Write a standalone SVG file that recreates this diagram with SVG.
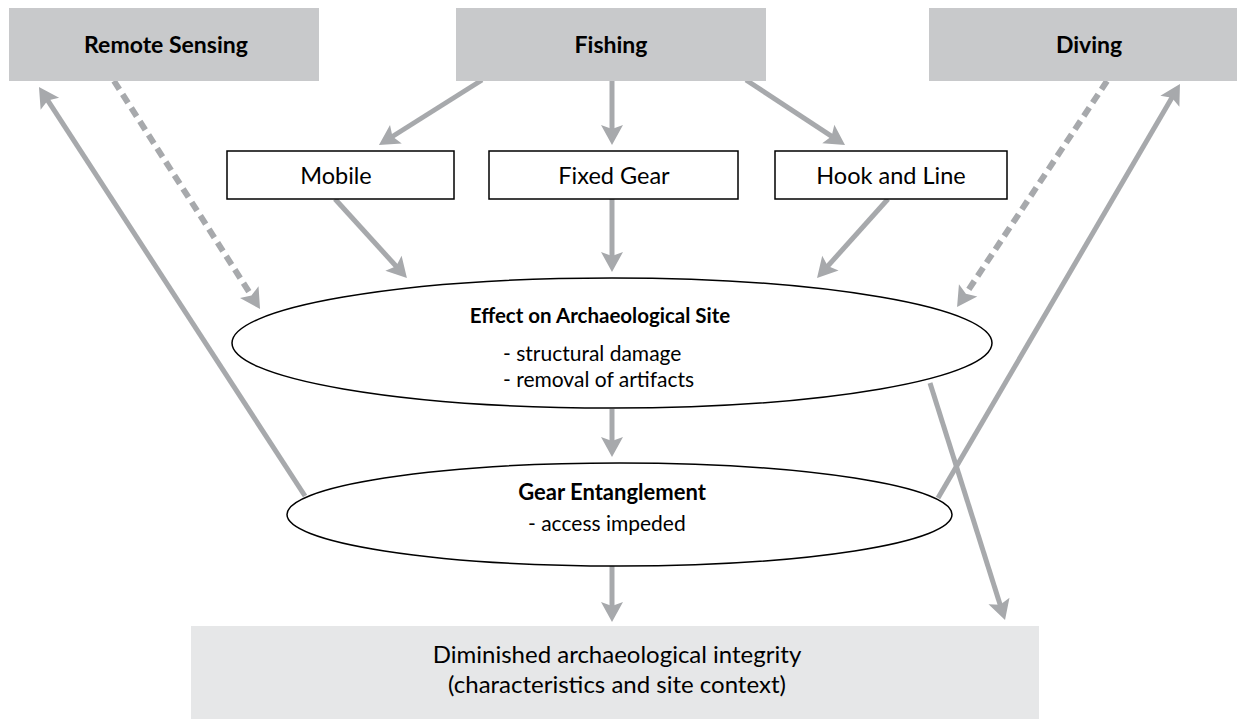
<svg xmlns="http://www.w3.org/2000/svg" width="1237" height="719" viewBox="0 0 1237 719">
<style>
.top{fill:#c8c9cb;stroke:none}
.bot{fill:#e6e7e8;stroke:none}
.box{fill:#fff;stroke:#000;stroke-width:1.5}
.ell{fill:#fff;stroke:#000;stroke-width:1.5}
.t{font-family:Lato,"Liberation Sans",sans-serif;fill:#000}
.b{font-weight:bold}
.c{text-anchor:middle}
.ar{stroke:#a7a9ac;stroke-width:5;fill:none;marker-end:url(#ah)}
.da{stroke-dasharray:10 6;stroke-width:6}
</style>
<defs>
<marker id="ah" markerUnits="userSpaceOnUse" viewBox="-6 -11 20 22" refX="0" refY="0" markerWidth="20" markerHeight="22" orient="auto" overflow="visible">
<path d="M-6,-11 L14,0 L-6,11 L-2,0 Z" fill="#a7a9ac"/>
</marker>
</defs>
<g id="connectors">
<line class="ar" x1="482" y1="80" x2="390.8" y2="137.5"/>
<line class="ar" x1="612" y1="80" x2="612" y2="131"/>
<line class="ar" x1="746" y1="80" x2="833.3" y2="137.3"/>
<line class="ar" x1="335" y1="199" x2="397.5" y2="267.7"/>
<line class="ar" x1="612" y1="199" x2="612" y2="258"/>
<line class="ar" x1="888" y1="199" x2="826.4" y2="267.6"/>
<line class="ar da" x1="114" y1="81" x2="252.5" y2="297.2"/>
<line class="ar da" x1="1107" y1="81" x2="964.8" y2="295.4"/>
<line class="ar" x1="305" y1="496" x2="46.6" y2="98.7"/>
<line class="ar" x1="938" y1="498" x2="1172.9" y2="96.1"/>
<line class="ar" x1="930" y1="383" x2="1000.8" y2="606.7"/>
<line class="ar" x1="612" y1="409" x2="612" y2="443"/>
<line class="ar" x1="612" y1="566" x2="612" y2="608"/>
</g>
<g id="remote-sensing"><rect class="top" x="9" y="8" width="310" height="73"/><text class="t b c" x="166" y="53" font-size="23">Remote Sensing</text></g>
<g id="fishing"><rect class="top" x="456" y="8" width="310" height="73"/><text class="t b c" x="611" y="53" font-size="23">Fishing</text></g>
<g id="diving"><rect class="top" x="929" y="8" width="310" height="73"/><text class="t b c" x="1089" y="53" font-size="23">Diving</text></g>
<g id="mobile"><rect class="box" x="227" y="151" width="227" height="48"/><text class="t c" x="336" y="184" font-size="23.5">Mobile</text></g>
<g id="fixed-gear"><rect class="box" x="489" y="151" width="249" height="48"/><text class="t c" x="614" y="184" font-size="23.5">Fixed Gear</text></g>
<g id="hook-and-line"><rect class="box" x="775" y="151" width="232" height="48"/><text class="t c" x="891" y="184" font-size="23.5">Hook and Line</text></g>
<g id="effect"><ellipse class="ell" cx="612" cy="343" rx="380" ry="65"/>
<text class="t b c" x="600" y="323" font-size="20.5">Effect on Archaeological Site</text>
<text class="t" x="503" y="361" font-size="21">- structural damage</text>
<text class="t" x="503" y="387" font-size="21">- removal of artifacts</text></g>
<g id="gear-entanglement"><ellipse class="ell" cx="619.5" cy="514.5" rx="332.5" ry="51.5"/>
<text class="t b c" x="612" y="500" font-size="22">Gear Entanglement</text>
<text class="t" x="528" y="531" font-size="21">- access impeded</text></g>
<g id="diminished"><rect class="bot" x="191" y="626" width="848" height="93"/>
<text class="t c" x="617" y="663" font-size="24">Diminished archaeological integrity</text>
<text class="t c" x="617" y="693" font-size="24">(characteristics and site context)</text></g>
</svg>
